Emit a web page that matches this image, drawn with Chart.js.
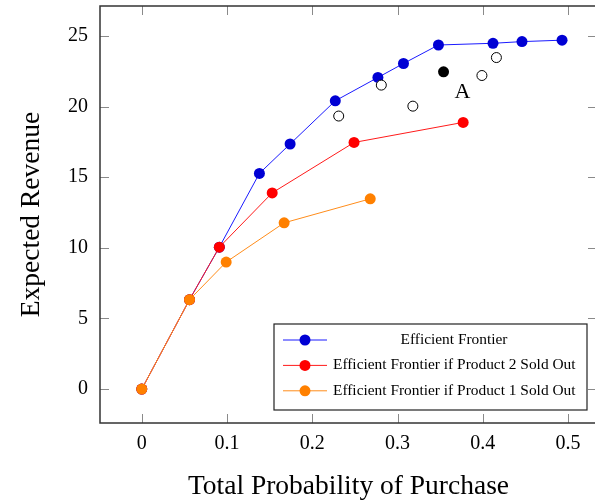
<!DOCTYPE html>
<html>
<head>
<meta charset="utf-8">
<script src="https://cdn.jsdelivr.net/npm/chart.js@4"></script>
<style>
  html, body { margin: 0; padding: 0; background: #fff; overflow: hidden; }
  #wrap { width: 603px; height: 504px; }
</style>
</head>
<body>
<div id="wrap"><canvas id="frontierChart" width="603" height="504"></canvas></div>
<script>
// data
var blueX = [0, 0.056, 0.091, 0.138, 0.174, 0.227, 0.277, 0.307, 0.348, 0.412, 0.446, 0.493];
var blueY = [0, 6.33, 10.05, 15.27, 17.35, 20.41, 22.06, 23.05, 24.36, 24.48, 24.6, 24.7];
var redX = [0, 0.056, 0.091, 0.153, 0.249, 0.377];
var redY = [0, 6.33, 10.05, 13.89, 17.46, 18.88];
var orangeX = [0, 0.056, 0.099, 0.167, 0.268];
var orangeY = [0, 6.33, 8.99, 11.77, 13.47];
var openX = [0.231, 0.281, 0.318, 0.399, 0.416];
var openY = [19.33, 21.52, 20.03, 22.2, 23.47];
var pointAX = [0.354];
var pointAY = [22.46];
var pointALabel = 'A';

var seriesNames = ['Efficient Frontier', 'Efficient Frontier if Product 2 Sold Out', 'Efficient Frontier if Product 1 Sold Out'];
var xTicks = [0, 0.1, 0.2, 0.3, 0.4, 0.5];
var yTicks = [0, 5, 10, 15, 20, 25];
var xTitle = 'Total Probability of Purchase';
var yTitle = 'Expected Revenue';

var FONT = '"Liberation Serif", "DejaVu Serif", serif';

function pts(xs, ys) {
  return xs.map(function(x, i) { return { x: x, y: ys[i] }; });
}

// frame, inside ticks, label "A" and the boxed legend
var decor = {
  id: 'decor',
  afterDatasetsDraw: function(chart) {
    var ctx = chart.ctx, a = chart.chartArea;
    var xs = chart.scales.x, ys = chart.scales.y;
    ctx.save();
    // inner ticks on all four sides
    ctx.strokeStyle = '#8a8a8a';
    ctx.lineWidth = 1;
    var tl = 9;
    xTicks.forEach(function(v) {
      var px = Math.round(xs.getPixelForValue(v)) + 0.5;
      ctx.beginPath();
      ctx.moveTo(px, a.bottom); ctx.lineTo(px, a.bottom - tl);
      ctx.moveTo(px, a.top); ctx.lineTo(px, a.top + tl);
      ctx.stroke();
    });
    yTicks.forEach(function(v) {
      var py = Math.round(ys.getPixelForValue(v)) + 0.5;
      ctx.beginPath();
      ctx.moveTo(a.left, py); ctx.lineTo(a.left + tl, py);
      ctx.moveTo(a.right, py); ctx.lineTo(a.right - tl, py);
      ctx.stroke();
    });
    // frame
    ctx.strokeStyle = '#333';
    ctx.lineWidth = 1.5;
    ctx.strokeRect(a.left, a.top, a.right - a.left, a.bottom - a.top);

    // label next to the black point
    ctx.fillStyle = '#000';
    ctx.font = '22px ' + FONT;
    ctx.textAlign = 'center';
    ctx.textBaseline = 'middle';
    ctx.fillText(pointALabel, xs.getPixelForValue(pointAX[0]) + 19, ys.getPixelForValue(pointAY[0]) + 20);

    // legend
    var bw = 313, bh = 86;
    var bx = a.right - 10 - bw, by = a.bottom - 13 - bh;
    ctx.fillStyle = '#fff';
    ctx.fillRect(bx, by, bw, bh);
    ctx.strokeStyle = '#222';
    ctx.lineWidth = 1.2;
    ctx.strokeRect(bx, by, bw, bh);
    ctx.font = '15.4px ' + FONT;
    ctx.textBaseline = 'middle';
    for (var i = 0; i < 3; i++) {
      var ds = chart.data.datasets[i];
      var ry = by + 16 + i * 25.4;
      ctx.strokeStyle = ds.borderColor;
      ctx.lineWidth = 1;
      ctx.beginPath();
      ctx.moveTo(bx + 9, ry); ctx.lineTo(bx + 53, ry);
      ctx.stroke();
      ctx.fillStyle = ds.pointBackgroundColor;
      ctx.beginPath();
      ctx.arc(bx + 31, ry, 5.5, 0, Math.PI * 2);
      ctx.fill();
      ctx.fillStyle = '#000';
      if (i === 0) {
        ctx.textAlign = 'center';
        ctx.fillText(ds.label, bx + 180, ry);
      } else {
        ctx.textAlign = 'left';
        ctx.fillText(ds.label, bx + 59, ry);
      }
    }
    ctx.restore();
  }
};

var ctx = document.getElementById('frontierChart').getContext('2d');
var chart = new Chart(ctx, {
  type: 'line',
  data: {
    datasets: [{
      label: seriesNames[0],
      data: pts(blueX, blueY),
      borderColor: '#1a1aff',
      pointBackgroundColor: '#0000d4',
      pointBorderWidth: 0,
      pointRadius: 5.5,
      borderWidth: 1,
      order: 5
    }, {
      label: seriesNames[1],
      data: pts(redX, redY),
      borderColor: '#ff1a1a',
      pointBackgroundColor: '#ff0000',
      pointBorderWidth: 0,
      pointRadius: 5.5,
      borderWidth: 1,
      order: 4
    }, {
      label: seriesNames[2],
      data: pts(orangeX, orangeY),
      borderColor: '#ff8c1a',
      pointBackgroundColor: '#ff8000',
      pointBorderWidth: 0,
      pointRadius: 5.5,
      borderWidth: 1,
      order: 3
    }, {
      label: 'other',
      data: pts(openX, openY),
      showLine: false,
      pointBackgroundColor: '#fff',
      pointBorderColor: '#000',
      pointBorderWidth: 1,
      pointRadius: 5,
      order: 2
    }, {
      label: 'A',
      data: pts(pointAX, pointAY),
      showLine: false,
      pointBackgroundColor: '#000',
      pointBorderWidth: 0,
      pointRadius: 5.5,
      order: 1
    }]
  },
  options: {
    responsive: false,
    animation: false,
    layout: { padding: { top: 5, right: 3, left: 0, bottom: 0 } },
    plugins: {
      legend: { display: false },
      tooltip: { enabled: false }
    },
    scales: {
      x: {
        type: 'linear',
        min: -0.049,
        max: 0.534,
        grid: { display: false, drawTicks: false },
        border: { display: false },
        afterBuildTicks: function(scale) {
          scale.ticks = xTicks.map(function(v) { return { value: v }; });
        },
        afterFit: function(scale) {
          scale.height = 81;
          scale.paddingLeft = 0;
          scale.paddingRight = 0;
        },
        ticks: {
          padding: 9,
          maxRotation: 0,
          color: '#000',
          font: { family: FONT, size: 20 },
          callback: function(v) { return v === 0 ? '0' : v.toFixed(1); }
        },
        title: {
          display: true,
          text: xTitle,
          color: '#000',
          font: { family: FONT, size: 27.5 },
          padding: { top: 0, bottom: 1 }
        }
      },
      y: {
        type: 'linear',
        min: -2.4,
        max: 27.12,
        grid: { display: false, drawTicks: false },
        border: { display: false },
        afterBuildTicks: function(scale) {
          scale.ticks = yTicks.map(function(v) { return { value: v }; });
        },
        afterFit: function(scale) {
          scale.width = 100;
          scale.paddingTop = 0;
          scale.paddingBottom = 0;
        },
        ticks: {
          padding: 12,
          color: '#000',
          font: { family: FONT, size: 20 }
        },
        title: {
          display: true,
          text: yTitle,
          color: '#000',
          font: { family: FONT, size: 27.5 },
          padding: { top: 15, bottom: 0 }
        }
      }
    }
  },
  plugins: [decor]
});
</script>
</body>
</html>
